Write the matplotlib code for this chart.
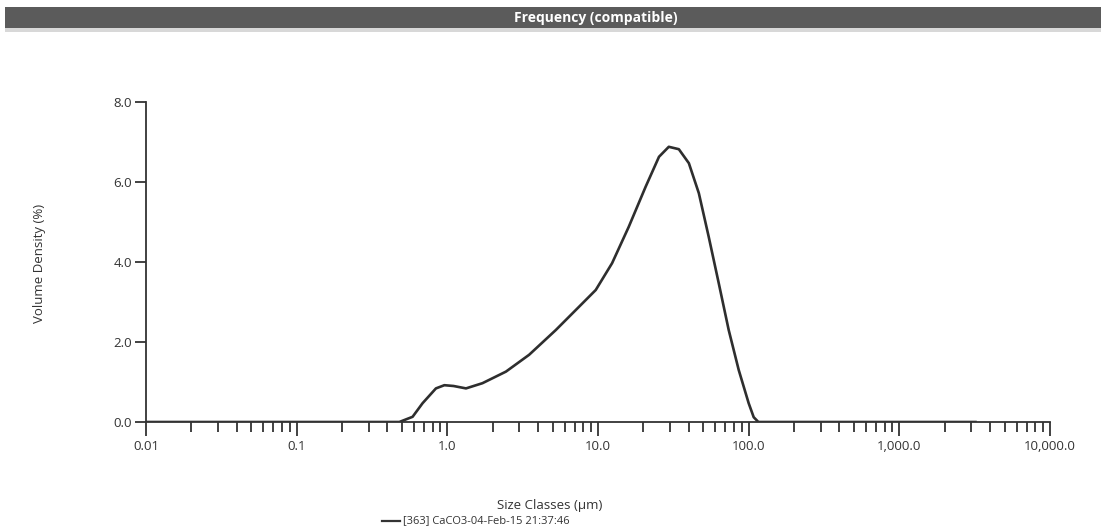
import matplotlib
matplotlib.use("Agg")
import matplotlib.pyplot as plt
from matplotlib.lines import Line2D
from matplotlib.patches import Rectangle
from matplotlib.ticker import FixedLocator, LogLocator, NullFormatter

plt.rcParams['font.family'] = ['Open Sans', 'DejaVu Sans']

# Data
size_um = [0.01, 0.1, 0.3, 0.48, 0.588, 0.685, 0.84, 0.956, 1.10, 1.33, 1.71, 2.45, 3.49,
           5.25, 7.48, 9.66, 12.4, 16.0, 20.7, 25.4, 29.5, 34.4, 40.1, 46.7, 54.3,
           63.3, 73.7, 85.9, 100.0, 108.0, 116.0, 200.0, 1000.0, 3200.0]
volume_density = [0.0, 0.0, 0.0, 0.0, 0.13, 0.47, 0.84, 0.92, 0.90, 0.84, 0.97, 1.26, 1.68,
                  2.3, 2.88, 3.3, 3.97, 4.88, 5.88, 6.63, 6.88, 6.82, 6.47, 5.72, 4.63,
                  3.47, 2.3, 1.3, 0.47, 0.12, 0.0, 0.0, 0.0, 0.0]

x_ticks = [0.01, 0.1, 1.0, 10.0, 100.0, 1000.0, 10000.0]
x_tick_labels = ["0.01", "0.1", "1.0", "10.0", "100.0", "1,000.0", "10,000.0"]
y_ticks = [0.0, 2.0, 4.0, 6.0, 8.0]
y_tick_labels = ["0.0", "2.0", "4.0", "6.0", "8.0"]

title = "Frequency (compatible)"
x_label = "Size Classes (\u00b5m)"
y_label = "Volume Density (%)"
legend_label = "[363] CaCO3-04-Feb-15 21:37:46"

W, H = 1101, 532
fig = plt.figure(figsize=(W / 100, H / 100), dpi=100)
fig.patch.set_facecolor("white")

# Title band
fig.patches.append(Rectangle((5 / W, 1 - 28 / H), 1 - 5 / W, 21 / H, transform=fig.transFigure,
                             facecolor="#5b5b5b", edgecolor="none", zorder=0))
fig.patches.append(Rectangle((5 / W, 1 - 32 / H), 1 - 5 / W, 4 / H, transform=fig.transFigure,
                             facecolor="#d8d8d8", edgecolor="none", zorder=0))
fig.text(596 / W, 1 - 18 / H, title, color="white", fontsize=10, fontweight="bold",
         ha="center", va="center")

ax = fig.add_axes([146 / W, 1 - 422 / H, (1050 - 146) / W, (422 - 102) / H])
ax.plot(size_um, volume_density, color="#2e2e2e", lw=1.9, solid_joinstyle="round")
ax.set_xscale("log")
ax.set_xlim(0.01, 10000)
ax.set_ylim(0, 8)

for s in ["top", "right"]:
    ax.spines[s].set_visible(False)
for s in ["left", "bottom"]:
    ax.spines[s].set_color("#333333")
    ax.spines[s].set_linewidth(1.3)

ax.xaxis.set_major_locator(FixedLocator(x_ticks))
ax.set_xticklabels(x_tick_labels)
ax.xaxis.set_minor_locator(LogLocator(base=10, subs=range(2, 10), numticks=20))
ax.xaxis.set_minor_formatter(NullFormatter())
ax.set_yticks(y_ticks)
ax.set_yticklabels(y_tick_labels)

ax.tick_params(axis="x", which="major", direction="out", length=10, width=1.3,
               colors="#333333", labelsize=9.5, labelcolor="#333333", pad=3)
ax.tick_params(axis="x", which="minor", direction="out", length=7, width=1.3, colors="#333333")
ax.tick_params(axis="y", which="major", direction="out", length=8, width=1.3,
               colors="#333333", labelsize=9.5, labelcolor="#333333", pad=2)

fig.text(550 / W, 1 - 505 / H, x_label, fontsize=9.5, color="#333333", ha="center", va="center")
fig.text(40 / W, 1 - 263 / H, y_label, fontsize=9.5, color="#333333", ha="center", va="center",
         rotation=90)

# Legend
fig.add_artist(Line2D([382 / W, 400 / W], [1 - 521 / H, 1 - 521 / H], transform=fig.transFigure,
                      color="#333333", lw=1.6))
fig.text(403 / W, 1 - 521 / H, legend_label, fontsize=8, color="#333333", ha="left", va="center")

fig.savefig("out.png", dpi=100)
